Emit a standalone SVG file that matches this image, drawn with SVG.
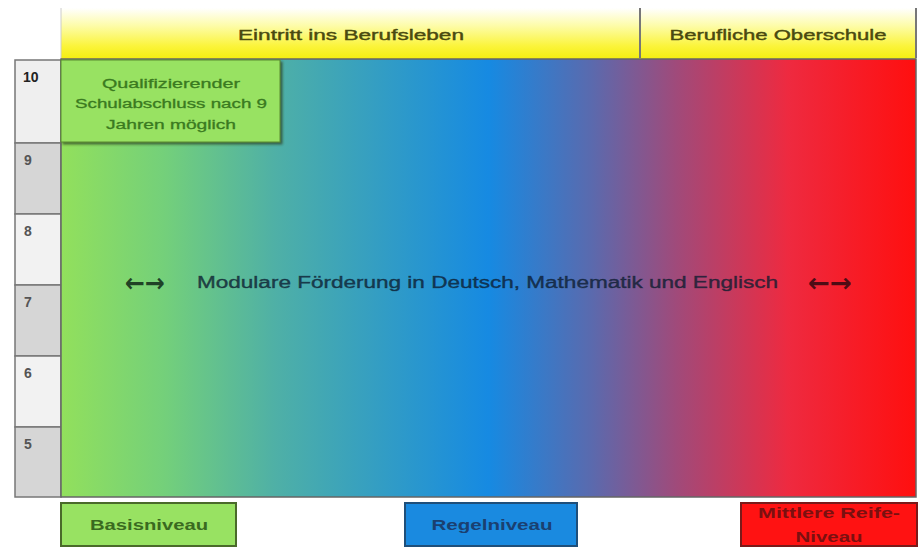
<svg xmlns="http://www.w3.org/2000/svg" width="922" height="547" viewBox="0 0 922 547">
<defs>
<linearGradient id="main" x1="0" y1="0" x2="1" y2="0">
<stop offset="0" stop-color="#92e05c"/>
<stop offset="0.12" stop-color="#74d07a"/>
<stop offset="0.25" stop-color="#4fb0a6"/>
<stop offset="0.5" stop-color="#168ae2"/>
<stop offset="0.62" stop-color="#5a6aae"/>
<stop offset="0.72" stop-color="#a04a7a"/>
<stop offset="0.85" stop-color="#ee2a40"/>
<stop offset="1" stop-color="#ff0f0f"/>
</linearGradient>
<linearGradient id="yel" x1="0" y1="0" x2="0" y2="1">
<stop offset="0" stop-color="#ffffff"/>
<stop offset="0.35" stop-color="#fdfca8"/>
<stop offset="0.75" stop-color="#fbf43a"/>
<stop offset="1" stop-color="#f4ee10"/>
</linearGradient>
<filter id="sh" x="-10%" y="-10%" width="130%" height="130%">
<feDropShadow dx="2" dy="2" stdDeviation="1.2" flood-color="#2a3a1a" flood-opacity="0.7"/>
</filter>
</defs>
<style>
text{font-family:"Liberation Sans","DejaVu Sans",sans-serif}
.hd{font-size:15px;fill:#4a4a10;stroke:#4a4a10;stroke-width:0.4;text-anchor:middle}
.gr{font-size:14px;fill:#555;font-weight:bold}
.row{stroke:#777;stroke-width:1.5}
.lbl{font-size:14px;text-anchor:middle;font-weight:bold}
.q{font-size:12.5px;fill:#3a7a20;stroke:#3a7a20;stroke-width:0.3;text-anchor:middle}
.ar{font-family:"DejaVu Sans",sans-serif;font-size:26px;font-weight:bold;text-anchor:middle}
</style>
<g id="grades">
<rect class="row" x="15" y="60" width="46" height="83" fill="#efefef"/>
<rect class="row" x="15" y="143" width="46" height="71" fill="#d6d6d6"/>
<rect class="row" x="15" y="214" width="46" height="71" fill="#f2f2f2"/>
<rect class="row" x="15" y="285" width="46" height="71" fill="#d6d6d6"/>
<rect class="row" x="15" y="356" width="46" height="71" fill="#f2f2f2"/>
<rect class="row" x="15" y="427" width="46" height="70" fill="#d6d6d6"/>
<text class="gr" x="23" y="82" style="fill:#222">10</text>
<text class="gr" x="24" y="165">9</text>
<text class="gr" x="24" y="236">8</text>
<text class="gr" x="24" y="307">7</text>
<text class="gr" x="24" y="378">6</text>
<text class="gr" x="24" y="449">5</text>
</g>
<g id="header">
<rect x="61" y="8" width="855" height="51" fill="url(#yel)"/>
<line x1="640" y1="8" x2="640" y2="58" stroke="#777" stroke-width="2"/>
<line x1="916" y1="8" x2="916" y2="58" stroke="#777" stroke-width="2"/>
<line x1="61" y1="8" x2="61" y2="58" stroke="#ccc" stroke-width="1"/>
<text class="hd" x="351" y="40" textLength="226" lengthAdjust="spacingAndGlyphs">Eintritt ins Berufsleben</text>
<text class="hd" x="778" y="40" textLength="217" lengthAdjust="spacingAndGlyphs">Berufliche Oberschule</text>
</g>
<g id="main">
<rect x="61" y="59" width="855" height="438" fill="url(#main)" stroke="#666" stroke-width="1.5"/>
<text class="ar" x="145" y="292" fill="#102818" fill-opacity="0.85" textLength="40" lengthAdjust="spacingAndGlyphs">←→</text>
<text x="197" y="288" font-size="16" fill="#0c1c30" fill-opacity="0.75" stroke="#0c1c30" stroke-opacity="0.6" stroke-width="0.5" textLength="581" lengthAdjust="spacingAndGlyphs">Modulare Förderung in Deutsch, Mathematik und Englisch</text>
<text class="ar" x="830" y="292" fill="#300810" fill-opacity="0.85" textLength="44" lengthAdjust="spacingAndGlyphs">←→</text>
</g>
<g id="qualifizierend">
<rect x="61" y="60" width="219" height="82" fill="#98e262" stroke="#5a8a30" stroke-width="1" filter="url(#sh)"/>
<text class="q" x="171" y="88" textLength="138" lengthAdjust="spacingAndGlyphs">Qualifizierender</text>
<text class="q" x="171" y="108" textLength="192" lengthAdjust="spacingAndGlyphs">Schulabschluss nach 9</text>
<text class="q" x="171" y="129" textLength="130" lengthAdjust="spacingAndGlyphs">Jahren möglich</text>
</g>
<g id="basis">
<rect x="61" y="503" width="175" height="43" fill="#98e262" stroke="#4a6a2a" stroke-width="2"/>
<text class="lbl" x="149" y="530" fill="#3a6a20" textLength="118" lengthAdjust="spacingAndGlyphs">Basisniveau</text>
</g>
<g id="regel">
<rect x="405" y="503" width="172" height="43" fill="#1a8ae0" stroke="#1f4f7a" stroke-width="2"/>
<text class="lbl" x="492" y="530" fill="#1a4070" textLength="121" lengthAdjust="spacingAndGlyphs">Regelniveau</text>
</g>
<g id="mittlere">
<rect x="741" y="503" width="176" height="43" fill="#ff1212" stroke="#7a1a1a" stroke-width="2"/>
<text class="lbl" x="829" y="518" fill="#7a1010" textLength="142" lengthAdjust="spacingAndGlyphs">Mittlere Reife-</text>
<text class="lbl" x="829" y="542" fill="#7a1010" textLength="67" lengthAdjust="spacingAndGlyphs">Niveau</text>
</g>
</svg>
